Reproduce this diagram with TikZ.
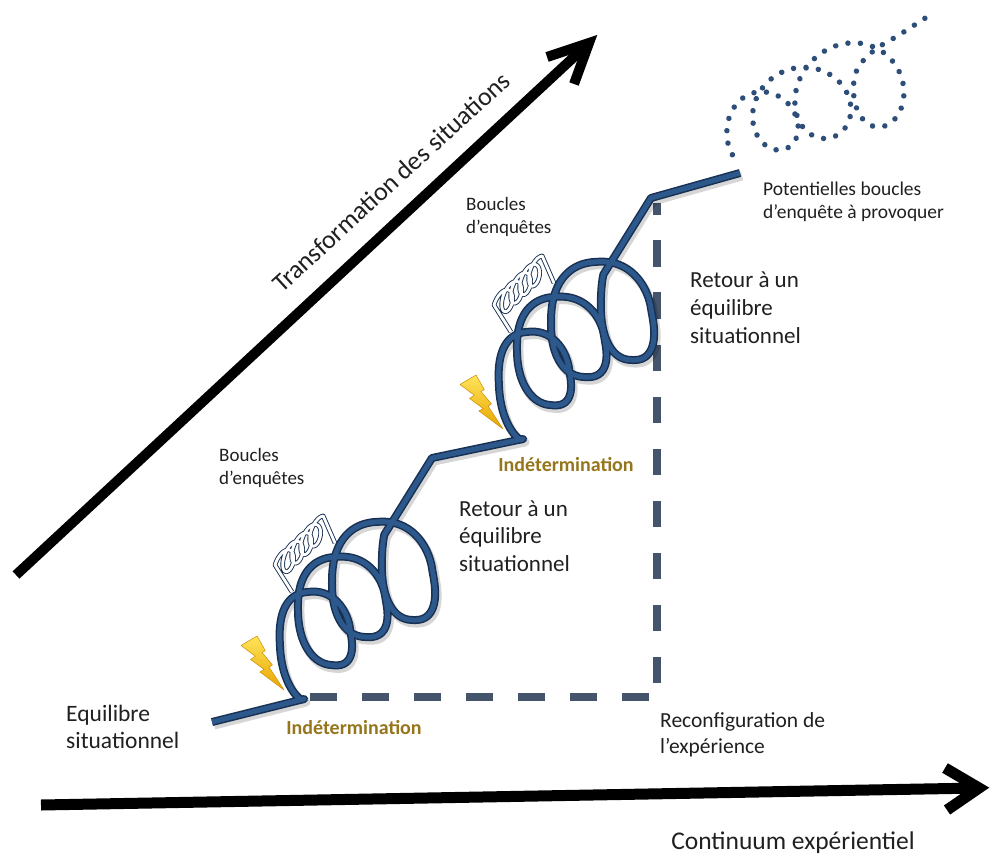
\documentclass[tikz,border=0pt]{standalone}
\usepackage{fontspec}
\setmainfont{Carlito}
\definecolor{ribc}{RGB}{44,88,140}
\definecolor{ribedge}{RGB}{24,48,82}
\definecolor{dashc}{RGB}{68,84,106}
\definecolor{dotc}{RGB}{45,78,120}
\definecolor{indetc}{RGB}{150,118,28}
\definecolor{txtc}{RGB}{32,32,32}
\definecolor{boltA}{RGB}{255,228,90}
\definecolor{boltB}{RGB}{232,165,0}
\definecolor{boltE}{RGB}{205,140,0}
\newcommand\ribbonpath{(a0) -- (k1) -- plot[domain=0.8:4.05,samples=301,variable=\u] ({spx(\u)},{spy(\u)}) -- (k2) -- (k3) -- plot[domain=0.8:4.05,samples=301,variable=\u] ({spx(\u)+219},{spy(\u)-260}) -- (k4) -- (a9)}
\newcommand\boltshape{(16.05,0) -- (0,9.44) -- (14.36,20.26) -- (9.48,23.40) -- (23.15,33.47) -- (18.96,35.95) -- (43,54) -- (28.03,31.08) -- (31.43,28.92) -- (20.94,16.46) -- (24.36,14.73) -- cycle}
\begin{document}
\begin{tikzpicture}[x=1pt,y=-1pt,
 declare function={
  pc(\t)=(cos(\t)>=0?1:-1)*(abs(cos(\t))+0.0001)^0.85;
  ps(\t)=(sin(\t)>=0?1:-1)*(abs(sin(\t))+0.0001)^0.85;
  bL(\u)=280+18*(\u-1)+8*(\u-1)*(\u-2);
  bR(\u)=350+35*(\u-1.5)+6*(\u-1.5)*(\u-2.5);
  bT(\u)=592-35*(\u-1.25);
  bB(\u)=665-28*(\u-1.75)+5.5*(\u-1.75)*(\u-2.75);
  spx(\u)=(bL(\u)+bR(\u))/2-(bR(\u)-bL(\u))/2*pc(360*\u)-6*sin(360*\u);
  spy(\u)=(bT(\u)+bB(\u))/2-(bB(\u)-bT(\u))/2*ps(360*\u);
  dL(\u)=727+26*(\u-1)+8.33*(\u-1)*(\u-2);
  dR(\u)=797+53*(\u-1.5);
  dT(\u)=92-24.5*(\u-1.25);
  dB(\u)=150-11.5*(\u-1.75);
  dpx(\u)=(dL(\u)+dR(\u))/2-(dR(\u)-dL(\u))/2*cos(360*\u);
  dpy(\u)=(dT(\u)+dB(\u))/2-(dB(\u)-dT(\u))/2*sin(360*\u);
  scx(\u)=282+9*\u-7*cos(360*\u)+3*sin(360*\u);
  scy(\u)=565-8.5*\u-13*sin(360*\u);
 },
 axisline/.style={line width=10pt, black, line cap=butt, line join=miter},
 dashline/.style={line width=8pt, dashc, dash pattern=on 26.5pt off 25.5pt},
 ribshadow/.style={line width=9pt, black, opacity=0.16, line join=round},
 ribouter/.style={line width=8pt, ribedge, line join=round},
 ribinner/.style={line width=5pt, ribc, line join=round},
 smallcoil/.style={draw=ribedge, double=white, double distance=2.8pt, line width=0.9pt, line join=round},
 dotline/.style={dotc, line width=5.5pt, line cap=round, dash pattern=on 0.01pt off 12.5pt},
 boltsty/.style={top color=boltA, bottom color=boltB, draw=boltE, line width=0.5pt, line join=round},
 lbl/.style={text=txtc, align=left, inner sep=0pt, anchor=west},
 indetlbl/.style={text=indetc, font=\bfseries\fontsize{20}{24}\selectfont, inner sep=0pt}
]
\useasboundingbox (0,0) rectangle (992,858);
\fill[white] (0,0) rectangle (992,858);

% coordinates
\coordinate (d0) at (16,575);
\coordinate (d1) at (589,43);
\coordinate (da) at (547,57);
\coordinate (db) at (574,84);
\coordinate (c0) at (41,805);
\coordinate (c1) at (979,788);
\coordinate (ca) at (945,768);
\coordinate (cb) at (947,810);
\coordinate (h0) at (310,697);
\coordinate (h1) at (650,697);
\coordinate (v0) at (657,683);
\coordinate (v1) at (657,203);
\coordinate (a0) at (212,722);
\coordinate (k1) at (304,699);
\coordinate (k2) at (432,458);
\coordinate (k3) at (523,439);
\coordinate (k4) at (651,198);
\coordinate (a9) at (740,173);

% axes
\draw[axisline] (d0) -- (d1);
\draw[axisline] (da) -- (d1) -- (db);
\draw[axisline, line width=11pt] (c0) -- (c1);
\draw[axisline, line width=11pt] (ca) -- (c1) -- (cb);

% dashed reconfiguration lines
\draw[dashline] (h0) -- (h1);
\draw[dashline] (v0) -- (v1);

% small inquiry coils
\draw[smallcoil] (292,592) -- plot[domain=0:4.25,samples=160,variable=\u] ({scx(\u)},{scy(\u)}) -- (335,543);
\draw[smallcoil] (511,332) -- plot[domain=0:4.25,samples=160,variable=\u] ({scx(\u)+219},{scy(\u)-260}) -- (554,283);

% ribbon
\draw[ribshadow, transform canvas={shift={(2,3)}}] \ribbonpath;
\draw[ribouter] \ribbonpath;
\draw[ribinner] \ribbonpath;

% dotted potential loops
\draw[dotline] plot[domain=0.85:4,samples=240,variable=\u] ({dpx(\u)},{dpy(\u)}) .. controls (860,58) and (880,45) .. (896,37) -- (930,15);

% lightning bolts
\begin{scope}[shift={(241,636)}]
 \shade[boltsty] \boltshape;
\end{scope}
\begin{scope}[shift={(460,375)}]
 \shade[boltsty] \boltshape;
\end{scope}

% labels
\node[lbl, font=\fontsize{23.5}{27}\selectfont] (eq) at (66,727) {Equilibre\\situationnel};
\node[indetlbl] (ind1) at (354,728) {Indétermination};
\node[indetlbl] (ind2) at (566,465) {Indétermination};
\node[lbl, font=\fontsize{19}{23}\selectfont] (bo1) at (219,468) {Boucles\\d’enquêtes};
\node[lbl, font=\fontsize{19}{23}\selectfont] (bo2) at (466,217) {Boucles\\d’enquêtes};
\node[lbl, font=\fontsize{23}{27.5}\selectfont] (re1) at (459,536) {Retour à un\\équilibre\\situationnel};
\node[lbl, font=\fontsize{23}{28}\selectfont] (re2) at (690,308) {Retour à un\\équilibre\\situationnel};
\node[lbl, font=\fontsize{19.5}{23}\selectfont] (po) at (763,202) {Potentielles boucles\\d’enquête à provoquer};
\node[lbl, font=\fontsize{21.5}{26}\selectfont] (rc) at (660,735) {Reconfiguration de\\l’expérience};
\node[text=txtc, inner sep=0pt, font=\fontsize{25.5}{30}\selectfont] (co) at (793,843) {Continuum expérientiel};
\node[text=txtc, inner sep=0pt, font=\fontsize{26}{30}\selectfont, rotate=42.5] (tr) at (391,182) {Transformation des situations};
\end{tikzpicture}
\end{document}
